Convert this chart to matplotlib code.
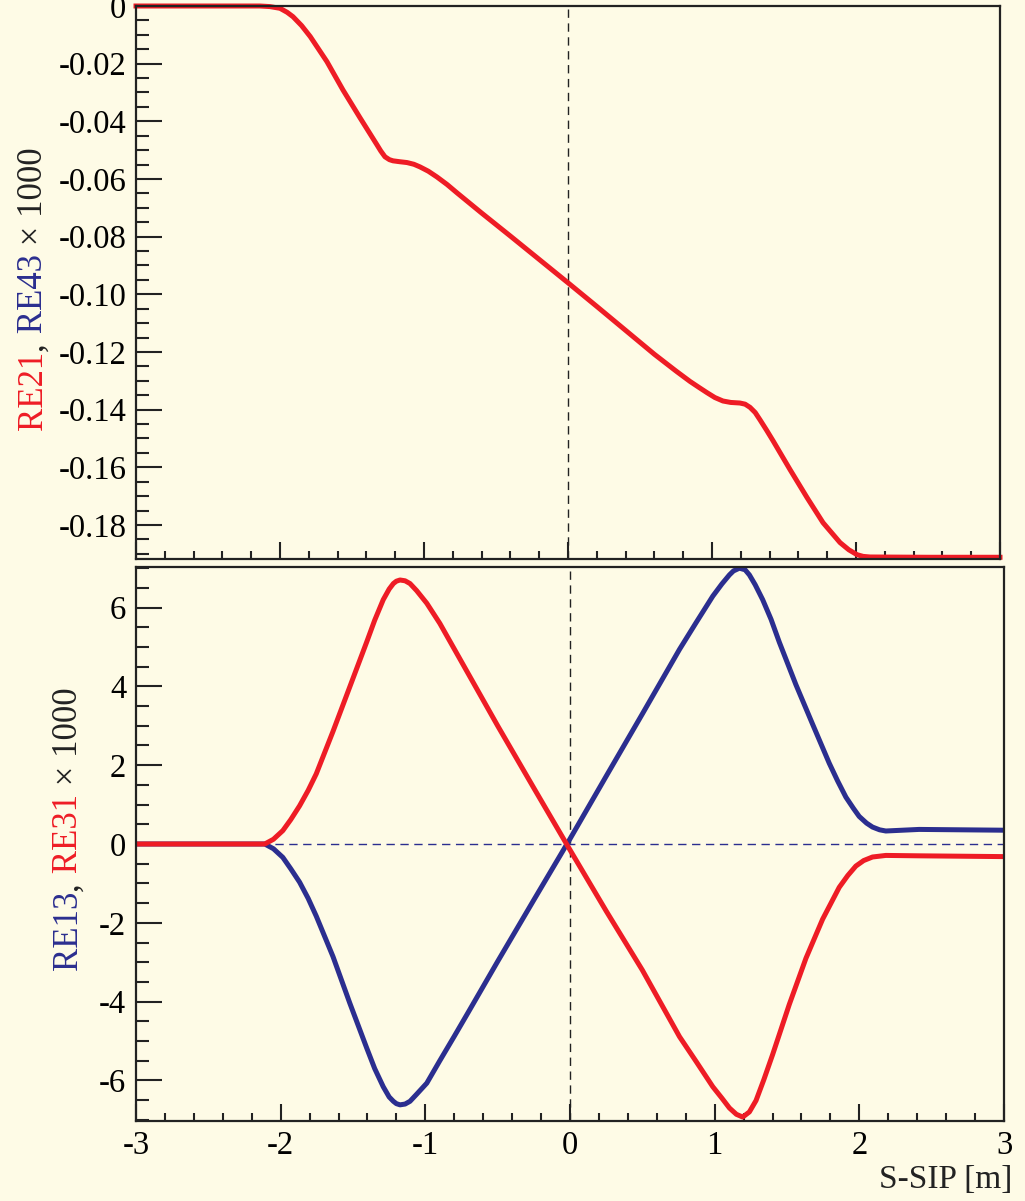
import matplotlib
matplotlib.use('Agg')
import matplotlib.pyplot as plt
from matplotlib.ticker import MultipleLocator

plt.rcParams['font.family'] = ['Liberation Serif', 'DejaVu Serif']

# colours
red = '#ee1c25'
blue = '#2b2e8f'
bg = '#fefbe6'

# top panel: RE21 (RE43 lies under it)
top_s = [-3.0, -2.5, -2.14, -2.07, -2.0, -1.95, -1.91, -1.85, -1.79, -1.674,
         -1.563, -1.444, -1.326, -1.30, -1.271, -1.24, -1.215, -1.17, -1.118, -1.07,
         -1.028, -0.97, -0.91, -0.84, -0.771, -0.6, -0.4, -0.2, 0.0, 0.2,
         0.4, 0.6, 0.75, 0.847, 0.91, 0.965, 1.02, 1.076, 1.13, 1.194,
         1.23, 1.264, 1.30, 1.333, 1.38, 1.424, 1.542, 1.66, 1.771, 1.889,
         1.95, 2.007, 2.05, 2.097, 2.5, 3.0]
top_re21 = [0.0, 0.0, 0.0, -0.0002, -0.0008, -0.0022, -0.0037, -0.0068, -0.0106, -0.0193,
            -0.0291, -0.0388, -0.0482, -0.0503, -0.0523, -0.0533, -0.0537, -0.0540, -0.0543, -0.0549,
            -0.0558, -0.0573, -0.0593, -0.0619, -0.0648, -0.0718, -0.0798, -0.0879, -0.0960, -0.1042,
            -0.1125, -0.1208, -0.1266, -0.1302, -0.1323, -0.1341, -0.1358, -0.1370, -0.1375, -0.1377,
            -0.1381, -0.1392, -0.1410, -0.1435, -0.1472, -0.1508, -0.1608, -0.1705, -0.1792, -0.1861,
            -0.1886, -0.1903, -0.1909, -0.1911, -0.1912, -0.1912]

# bottom panel: RE13 (blue)
blue_s = [-3.0, -2.5, -2.2, -2.11, -2.05, -1.985, -1.93, -1.869, -1.81, -1.754,
          -1.638, -1.522, -1.406, -1.35, -1.291, -1.25, -1.221, -1.2, -1.175, -1.14,
          -1.106, -1.06, -0.99, -0.9, -0.8, -0.7, -0.5, -0.25, 0.0, 0.25,
          0.5, 0.757, 0.872, 0.987, 1.05, 1.102, 1.13, 1.171, 1.21, 1.24,
          1.28, 1.332, 1.39, 1.447, 1.562, 1.677, 1.792, 1.85, 1.907, 1.96,
          1.999, 2.05, 2.091, 2.14, 2.183, 2.413, 3.0]
bot_re13 = [0.0, 0.0, 0.0, 0.0, -0.12, -0.34, -0.63, -0.97, -1.38, -1.83,
            -2.86, -4.04, -5.17, -5.70, -6.16, -6.42, -6.53, -6.59, -6.62, -6.60,
            -6.53, -6.35, -6.07, -5.50, -4.88, -4.25, -2.98, -1.42, 0.13, 1.72,
            3.30, 4.94, 5.62, 6.29, 6.60, 6.83, 6.93, 7.00, 6.96, 6.83,
            6.58, 6.20, 5.70, 5.12, 4.04, 3.04, 2.05, 1.60, 1.19, 0.90,
            0.70, 0.53, 0.43, 0.36, 0.33, 0.37, 0.35]

# bottom panel: RE31 (red)
red_s = [-3.0, -2.5, -2.2, -2.11, -2.05, -1.985, -1.93, -1.869, -1.81, -1.754,
         -1.638, -1.522, -1.406, -1.35, -1.291, -1.25, -1.221, -1.2, -1.175, -1.14,
         -1.106, -1.06, -0.99, -0.9, -0.8, -0.7, -0.5, -0.25, 0.0, 0.25,
         0.5, 0.757, 0.872, 0.987, 1.05, 1.102, 1.15, 1.194, 1.24, 1.286,
         1.34, 1.401, 1.516, 1.631, 1.746, 1.861, 1.92, 1.976, 2.03, 2.091,
         2.183, 2.413, 3.0]
bot_re31 = [0.0, 0.0, 0.0, 0.0, 0.12, 0.34, 0.62, 0.97, 1.36, 1.78,
            2.86, 3.99, 5.12, 5.68, 6.20, 6.47, 6.61, 6.67, 6.70, 6.68,
            6.61, 6.43, 6.11, 5.60, 4.95, 4.30, 3.00, 1.42, -0.15, -1.70,
            -3.20, -4.89, -5.52, -6.16, -6.45, -6.70, -6.86, -6.93, -6.80, -6.51,
            -5.98, -5.34, -4.07, -2.90, -1.91, -1.10, -0.80, -0.56, -0.42, -0.33,
            -0.29, -0.30, -0.32]

W, H = 1025, 1201
fig = plt.figure(figsize=(W / 100, H / 100), dpi=100, facecolor=bg)

ax1 = fig.add_axes([136 / W, 1 - 559 / H, 864 / W, 553 / H], facecolor=bg)
ax2 = fig.add_axes([136 / W, 1 - 1121 / H, 868 / W, 554 / H], facecolor=bg)


def style(ax):
    for sp in ax.spines.values():
        sp.set_linewidth(1.6)
        sp.set_color('#222222')
    ax.tick_params(which='both', direction='in', top=False, right=False,
                   color='#222222', labelsize=23.5, pad=7)
    ax.tick_params(axis='y', which='major', length=19, width=1.5)
    ax.tick_params(axis='y', which='minor', length=9.5, width=1.5)
    ax.tick_params(axis='x', which='major', length=12, width=1.5)
    ax.tick_params(axis='x', which='minor', length=6, width=1.5)
    ax.set_xlim(-3, 3)
    ax.xaxis.set_major_locator(MultipleLocator(1))
    ax.xaxis.set_minor_locator(MultipleLocator(0.2))


style(ax1)
style(ax2)

# top panel
ax1.axvline(0, color='#222222', lw=1.0, ls=(0, (6, 4)))
ax1.plot(top_s, top_re21, color=red, lw=3.6, solid_joinstyle='round', clip_on=False)
ax1.set_ylim(-0.1918, 0)
ax1.yaxis.set_minor_locator(MultipleLocator(0.005))
ax1.set_yticks([0, -0.02, -0.04, -0.06, -0.08, -0.10, -0.12, -0.14, -0.16, -0.18])
ax1.set_yticklabels(['0', '-0.02', '-0.04', '-0.06', '-0.08', '-0.10', '-0.12',
                     '-0.14', '-0.16', '-0.18'])
ax1.tick_params(axis='x', labelbottom=False)

# bottom panel
ax2.axvline(0, color='#222222', lw=1.0, ls=(0, (6, 4)))
ax2.axhline(0, color=blue, lw=1.0, ls=(0, (6, 4)))
ax2.plot(blue_s, bot_re13, color=blue, lw=3.6, solid_joinstyle='round')
ax2.plot(red_s, bot_re31, color=red, lw=3.6, solid_joinstyle='round')
ax2.set_ylim(-7.03, 7.03)
ax2.yaxis.set_minor_locator(MultipleLocator(0.5))
ax2.set_yticks([-6, -4, -2, 0, 2, 4, 6])
ax2.set_yticklabels(['-6', '-4', '-2', '0', '2', '4', '6'])
ax2.set_xticks([-3, -2, -1, 0, 1, 2, 3])
ax2.set_xticklabels(['-3', '-2', '-1', '0', '1', '2', '3'])

fig.text(1012 / W, 1 - 1188 / H, 'S-SIP [m]', fontsize=24, ha='right', va='baseline',
         color='#222222')

# multicoloured vertical axis titles
renderer = fig.canvas.get_renderer()


def text_len(s, size):
    t = fig.text(0, 0, s + 'X', fontsize=size, rotation=90)
    t2 = fig.text(0, 0, 'X', fontsize=size, rotation=90)
    L = t.get_window_extent(renderer).height - t2.get_window_extent(renderer).height
    t.remove()
    t2.remove()
    return L


def vlabel(xpix, ypix, parts, size=25):
    done = ''
    for s, c in parts:
        off = text_len(done, size) if done else 0.0
        fig.text(xpix / W, (ypix + off) / H, s, color=c, fontsize=size, rotation=90,
                 rotation_mode='anchor', ha='left', va='baseline')
        done += s


vlabel(42, H - 430, [('RE21', red), (',', '#222222'), (' RE43', blue),
                     (' \u00d7 1000', '#222222')])
vlabel(77, H - 970, [('RE13', blue), (',', '#222222'), (' RE31', red),
                     (' \u00d7 1000', '#222222')])

fig.savefig('out.png', dpi=100, facecolor=bg)
